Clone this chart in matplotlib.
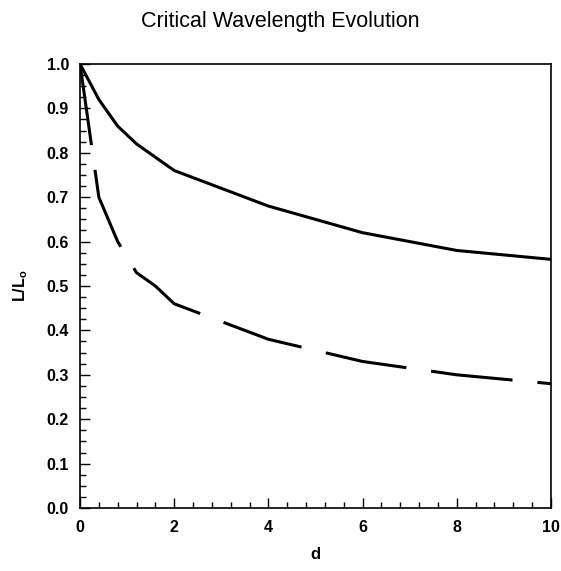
import matplotlib
matplotlib.use("Agg")
import matplotlib.pyplot as plt
from matplotlib.ticker import MultipleLocator

plt.rcParams['font.family'] = ['Liberation Sans', 'DejaVu Sans']
plt.rcParams['lines.scale_dashes'] = False

d_solid = [0, 0.4, 0.8, 1.2, 2, 4, 6, 8, 10]
L_solid = [1.0, 0.92, 0.86, 0.82, 0.76, 0.68, 0.62, 0.58, 0.56]

d_dash = [0, 0.4, 0.8, 1.2, 1.6, 2, 4, 6, 8, 10]
L_dash = [1.0, 0.70, 0.60, 0.53, 0.50, 0.46, 0.38, 0.33, 0.30, 0.28]

x_ticks = [0, 2, 4, 6, 8, 10]
y_ticks = [0.0, 0.1, 0.2, 0.3, 0.4, 0.5, 0.6, 0.7, 0.8, 0.9, 1.0]

fig = plt.figure(figsize=(5.61, 5.71), dpi=100)
ax = fig.add_axes([0.1426, 0.1103, 0.8394, 0.7777])

ax.plot(d_solid, L_solid, color='black', lw=2.2, solid_joinstyle='round')
ax.plot(d_dash, L_dash, color='black', lw=2.2, dashes=(59, 18),
        dash_capstyle='butt', dash_joinstyle='round')

ax.set_xlim(0, 10)
ax.set_ylim(0, 1.0)
ax.set_xticks(x_ticks)
ax.set_yticks(y_ticks)
ax.set_xticklabels([str(v) for v in x_ticks])
ax.set_yticklabels([f"{v:.1f}" for v in y_ticks])
ax.xaxis.set_minor_locator(MultipleLocator(0.4))
ax.yaxis.set_minor_locator(MultipleLocator(0.025))
ax.tick_params(which='major', direction='in', length=7, width=1, top=False, right=False,
               labelsize=11.5)
ax.tick_params(axis='x', which='major', pad=8.5)
ax.tick_params(axis='y', which='major', pad=8)
ax.tick_params(which='minor', direction='in', length=4, width=1, top=False, right=False)
for lab in ax.get_xticklabels() + ax.get_yticklabels():
    lab.set_fontweight('bold')
for s in ax.spines.values():
    s.set_linewidth(1.2)

ax.set_xlabel('d', fontsize=12, fontweight='bold', labelpad=9)
ax.set_ylabel('L/L$_\\mathregular{o}$', fontsize=11.5, fontweight='bold', labelpad=12)
fig.text(0.5, 0.962, 'Critical Wavelength Evolution', ha='center', va='center', fontsize=15.5)

fig.savefig('out.png', dpi=100)
